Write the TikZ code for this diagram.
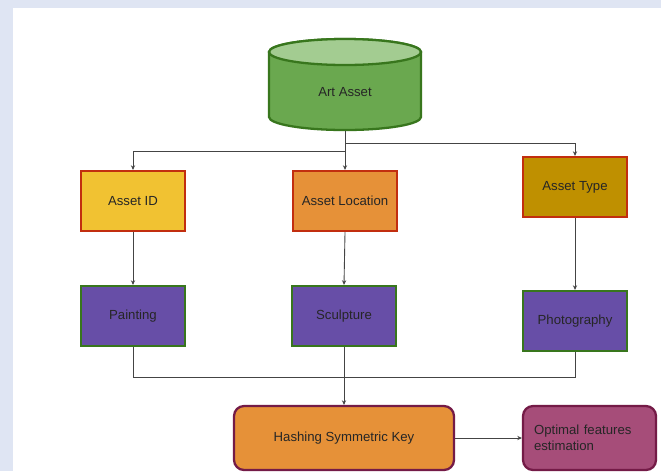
\documentclass[tikz,border=0pt]{standalone}
\usepackage{fontspec}
\setmainfont{Liberation Sans}
\usepackage{tikz}
\usetikzlibrary{arrows.meta,positioning,calc}

\definecolor{bgtint}{HTML}{DFE5F3}
\definecolor{linegray}{HTML}{444444}
\definecolor{dbfill}{HTML}{6AA84F}
\definecolor{dbtop}{HTML}{A3CC91}
\definecolor{dbedge}{HTML}{38761D}
\definecolor{rededge}{HTML}{C22E0F}
\definecolor{idfill}{HTML}{F1C232}
\definecolor{orfill}{HTML}{E69138}
\definecolor{typefill}{HTML}{BF9000}
\definecolor{purfill}{HTML}{674EA7}
\definecolor{plumedge}{HTML}{741B47}
\definecolor{plumfill}{HTML}{A64D79}

\begin{document}
\begin{tikzpicture}[x=0.02cm, y=0.02cm,
    every node/.style={font=\fontsize{7.5}{9.2}\selectfont, text=black!85},
    attr/.style={draw=rededge, line width=1.3pt, minimum width=2.08cm, minimum height=1.2cm},
    kind/.style={draw=dbedge, fill=purfill, line width=1.3pt, minimum width=2.08cm, minimum height=1.2cm},
    proc/.style={draw=plumedge, line width=1.3pt, rounded corners=0.2cm, minimum height=1.28cm},
    conn/.style={draw=linegray, line width=0.5pt, -{Stealth[length=2.6pt,width=2.4pt]}},
    link/.style={draw=linegray, line width=0.5pt}]
    \useasboundingbox (0,0) rectangle (661,-471);
    \fill[bgtint] (0,0) rectangle (661,-471);
    \fill[white] (13,-8) rectangle (661,-471);

    % database cylinder
    \node[minimum width=3.04cm, minimum height=1.82cm, inner sep=0pt] (db) at (345,-85) {};
    \filldraw[fill=dbfill, draw=dbedge, line width=1.3pt]
        (269,-52) -- (269,-117) arc[start angle=180, end angle=360, x radius=76, y radius=13]
        -- (421,-52) arc[start angle=0, end angle=180, x radius=76, y radius=13] -- cycle;
    \filldraw[fill=dbtop, draw=dbedge, line width=1.3pt] (345,-52) ellipse[x radius=76, y radius=13];
    \node (dblabel) at ($(db)+(0,-7)$) {Art Asset};

    % attributes
    \node[attr, fill=idfill] (id) at (133,-201) {Asset ID};
    \node[attr, fill=orfill] (loc) at (345,-201) {Asset Location};
    \node[attr, fill=typefill] (type) at (575,-187) {Asset Type};

    % kinds
    \node[kind] (paint) at (133,-316) {Painting};
    \node[kind] (sculpt) at (344,-316) {Sculpture};
    \node[kind] (photo) at (575,-321) {Photography};

    % processing
    \node[proc, fill=orfill, minimum width=4.4cm] (hash) at (344,-438) {Hashing Symmetric Key};
    \node[proc, fill=plumfill, minimum width=2.66cm, text width=2.22cm, align=left] (opt) at (589.5,-438)
        {Optimal features\\estimation};

    \draw[conn] (db.south) -- (loc.north);
    \draw[conn] (db.south) ++(0,-13) -| (type.north);
    \draw[conn] (db.south) ++(0,-21) -| (id.north);

    \draw[conn] (id) -- (paint);
    \draw[conn] (loc.south) -- (sculpt.north);
    \draw[conn] (type) -- (photo);

    % merge into the key
    \coordinate (merge) at (344,-377);
    \draw[link] (paint.south) |- (merge);
    \draw[link] (photo.south) |- (merge);
    \draw[link] (sculpt.south) -- (merge);
    \draw[conn] (merge) -- (hash.north);
    \draw[conn] (hash) -- (opt);
\end{tikzpicture}
\end{document}
